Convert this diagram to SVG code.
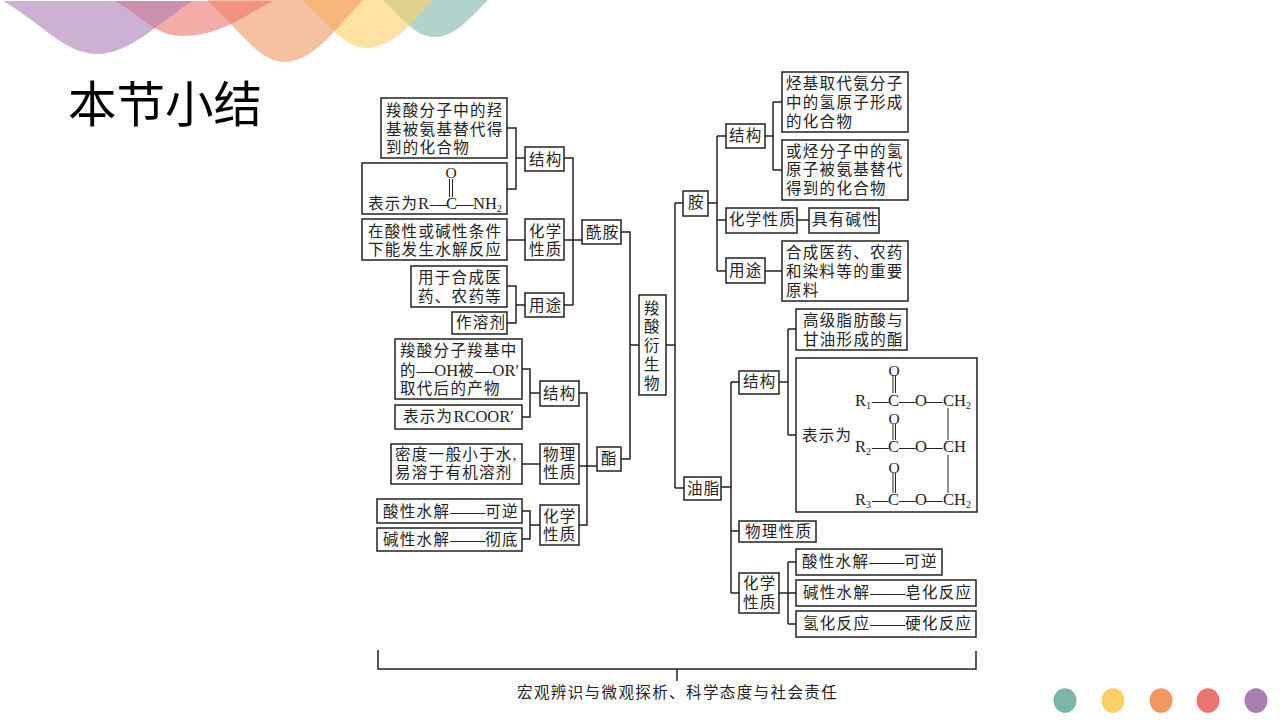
<svg xmlns="http://www.w3.org/2000/svg" width="1280" height="720" viewBox="0 0 1280 720">
<style>
rect.b{fill:#fff;stroke:#222;stroke-width:1.5}
text{font-family:"Liberation Serif","Noto Sans CJK SC",serif;fill:#222}
.t{font-size:15.5px;letter-spacing:1.3px}
.d{letter-spacing:0;font-size:17.5px}
.f{font-size:16.5px}
.o{font-size:15.5px}
.s{font-size:10px;letter-spacing:0}
.c path,.bond{fill:none;stroke:#222;stroke-width:1.5}
.bond{stroke-width:1}
.w{opacity:.6}
</style>
<rect width="1280" height="720" fill="#fff"/>
<g id="waves">
<path class="w" fill="#7BB7A8" d="M383 0C405 20 415 37 435 37C455 37 470 18 488 0Z"/>
<path class="w" fill="#FFCE66" d="M302 0C330 25 345 48 367 48C390 48 412 25 432 0Z"/>
<path class="w" fill="#EF9860" d="M207 0C240 30 258 62 285 62C312 62 335 30 363 0Z"/>
<path class="w" fill="#EC7570" d="M115 1C145 18 155 36 183 36C220 36 245 15 273 1Z"/>
<path class="w" fill="#AB7DB5" d="M3 1C40 22 65 54 97 54C130 54 160 22 192 1Z"/>
</g>
<text id="title" x="68" y="121.500" style="font-family:'Noto Sans CJK SC','Noto Sans',sans-serif;font-size:48.500px;fill:#000">本节小结</text>

<g class="c" id="connectors">
<path d="M507 128H516V189H507M516 158H525M564 158H573V305H564M507 240H525M564 240H582M507 286H516V323H507M516 305H525"/>
<path d="M621 232H630V459H621M630 345H639M666 345H675M675 203V488M675 203H683M675 488H684"/>
<path d="M522 369H530V417H522M530 393H540M579 393H587V525H579M522 464H540M579 466H597M522 511H530V539H522M530 525H540"/>
<path d="M708 203H717M717 136V271M717 136H726M717 220H726M717 271H726M765 136H773M773 102V170M773 102H782M773 170H782M797 220H809M765 271H782"/>
<path d="M721 487H731M731 382V593M731 382H739M731 531H739M731 593H739M779 382H788M788 329V435M788 329H796M788 435H796M779 593H796M788 562V624M788 562H796M788 624H796"/>
<path d="M378 650V669H976V651M677 669V681"/>
</g>

<g id="n-zhongxin"><rect class="b" x="639" y="295" width="27" height="100"/>
<text class="t" x="652.500" y="314" text-anchor="middle">羧</text><text class="t" x="652.500" y="332" text-anchor="middle">酸</text><text class="t" x="652.500" y="351" text-anchor="middle">衍</text><text class="t" x="652.500" y="370" text-anchor="middle">生</text><text class="t" x="652.500" y="389" text-anchor="middle">物</text></g>

<g id="n-xianan"><rect class="b" x="582" y="220" width="39" height="24"/><text class="t" x="586" y="238">酰胺</text></g>
<g id="n-xa-jg"><rect class="b" x="525" y="147" width="39" height="24"/><text class="t" x="529" y="165">结构</text></g>
<g id="n-xa-jg1"><rect class="b" x="381" y="98" width="126" height="60"/><text class="t" x="386" y="116">羧酸分子中的羟</text><text class="t" x="386" y="135">基被氨基替代得</text><text class="t" x="386" y="153">到的化合物</text></g>
<g id="n-xa-jg2"><rect class="b" x="362" y="163" width="145" height="51"/>
<text class="o" x="451" y="178" text-anchor="middle">O</text>
<path class="bond" d="M449.500 179V197M452.500 179V197"/>
<text class="t" y="209"><tspan x="368">表示为</tspan><tspan class="f" x="418" style="letter-spacing:0">R</tspan><tspan class="d" x="430">—</tspan><tspan class="f" x="446" style="letter-spacing:0">C</tspan><tspan class="d" x="456">—</tspan><tspan class="f" x="473" style="letter-spacing:0">NH</tspan><tspan class="s" dy="3">2</tspan></text></g>
<g id="n-xa-hx"><rect class="b" x="525" y="219" width="39" height="41"/><text class="t" x="529" y="237">化学</text><text class="t" x="529" y="255">性质</text></g>
<g id="n-xa-hx1"><rect class="b" x="362" y="219" width="145" height="41"/><text class="t" x="368" y="237">在酸性或碱性条件</text><text class="t" x="368" y="255">下能发生水解反应</text></g>
<g id="n-xa-yt"><rect class="b" x="525" y="293" width="39" height="24"/><text class="t" x="529" y="311">用途</text></g>
<g id="n-xa-yt1"><rect class="b" x="411" y="266" width="96" height="41"/><text class="t" x="418" y="283">用于合成医</text><text class="t" x="418" y="302">药、农药等</text></g>
<g id="n-xa-yt2"><rect class="b" x="452" y="312" width="55" height="22"/><text class="t" x="456" y="328">作溶剂</text></g>

<g id="n-zhi"><rect class="b" x="597" y="447" width="24" height="24"/><text class="t" x="601" y="464">酯</text></g>
<g id="n-z-jg"><rect class="b" x="540" y="381" width="39" height="25"/><text class="t" x="543" y="399">结构</text></g>
<g id="n-z-jg1"><rect class="b" x="395" y="339" width="127" height="60"/><text class="t" x="400" y="356">羧酸分子羧基中</text><text class="t" x="400" y="376">的<tspan class="d">—</tspan><tspan class="f" style="letter-spacing:0">OH</tspan>被<tspan class="d">—</tspan><tspan class="f" style="letter-spacing:0">OR′</tspan></text><text class="t" x="400" y="394">取代后的产物</text></g>
<g id="n-z-jg2"><rect class="b" x="395" y="405" width="127" height="24"/><text class="t" x="403" y="422">表示为<tspan class="f" style="letter-spacing:0">RCOOR′</tspan></text></g>
<g id="n-z-wl"><rect class="b" x="540" y="444" width="39" height="40"/><text class="t" x="543" y="460">物理</text><text class="t" x="543" y="478">性质</text></g>
<g id="n-z-wl1"><rect class="b" x="391" y="444" width="131" height="40"/><text class="t" x="395" y="460">密度一般小于水,</text><text class="t" x="395" y="478">易溶于有机溶剂</text></g>
<g id="n-z-hx"><rect class="b" x="540" y="505" width="39" height="40"/><text class="t" x="543" y="522">化学</text><text class="t" x="543" y="540">性质</text></g>
<g id="n-z-hx1"><rect class="b" x="377" y="499" width="145" height="24"/><text class="t" x="383" y="517">酸性水解<tspan class="d">——</tspan>可逆</text></g>
<g id="n-z-hx2"><rect class="b" x="377" y="528" width="145" height="23"/><text class="t" x="383" y="545">碱性水解<tspan class="d">——</tspan>彻底</text></g>

<g id="n-an"><rect class="b" x="683" y="191" width="25" height="25"/><text class="t" x="688" y="208">胺</text></g>
<g id="n-a-jg"><rect class="b" x="726" y="124" width="39" height="24"/><text class="t" x="729" y="141">结构</text></g>
<g id="n-a-jg1"><rect class="b" x="782" y="72" width="126" height="60"/><text class="t" x="786" y="89">烃基取代氨分子</text><text class="t" x="786" y="108">中的氢原子形成</text><text class="t" x="786" y="127">的化合物</text></g>
<g id="n-a-jg2"><rect class="b" x="782" y="140" width="126" height="60"/><text class="t" x="786" y="157">或烃分子中的氢</text><text class="t" x="786" y="175">原子被氨基替代</text><text class="t" x="786" y="194">得到的化合物</text></g>
<g id="n-a-hx"><rect class="b" x="726" y="208" width="71" height="25"/><text class="t" x="729" y="225">化学性质</text></g>
<g id="n-a-hx1"><rect class="b" x="809" y="208" width="70" height="25"/><text class="t" x="812" y="225">具有碱性</text></g>
<g id="n-a-yt"><rect class="b" x="726" y="258" width="39" height="25"/><text class="t" x="729" y="276">用途</text></g>
<g id="n-a-yt1"><rect class="b" x="782" y="241" width="126" height="60"/><text class="t" x="786" y="258">合成医药、农药</text><text class="t" x="786" y="277">和染料等的重要</text><text class="t" x="786" y="296">原料</text></g>

<g id="n-youzhi"><rect class="b" x="684" y="477" width="37" height="23"/><text class="t" x="687" y="494">油脂</text></g>
<g id="n-y-jg"><rect class="b" x="739" y="371" width="40" height="23"/><text class="t" x="743" y="387">结构</text></g>
<g id="n-y-jg1"><rect class="b" x="796" y="309" width="111" height="41"/><text class="t" x="803" y="326">高级脂肪酸与</text><text class="t" x="803" y="345">甘油形成的酯</text></g>
<g id="n-y-jg2"><rect class="b" x="796" y="358" width="181" height="154"/>
<text class="t" x="802" y="441">表示为</text>
<path class="bond" d="M893 375V393M895.500 375V393M893 424V440M895.500 424V440M893 473V493M895.500 473V493M948 408V440M948 455V493"/>
<text class="o" x="894" y="376" text-anchor="middle">O</text><text class="o" x="894" y="423.500" text-anchor="middle">O</text><text class="o" x="894" y="473" text-anchor="middle">O</text>
<text class="f" y="406"><tspan x="855">R</tspan><tspan class="s" dy="2.500">1</tspan><tspan x="872" dy="-2.500">—</tspan><tspan x="888">C</tspan><tspan x="899">—</tspan><tspan x="915">O</tspan><tspan x="926">—</tspan><tspan x="943">CH</tspan><tspan class="s" dy="2.500">2</tspan></text>
<text class="f" y="452"><tspan x="855">R</tspan><tspan class="s" dy="2.500">2</tspan><tspan x="872" dy="-2.500">—</tspan><tspan x="888">C</tspan><tspan x="899">—</tspan><tspan x="915">O</tspan><tspan x="926">—</tspan><tspan x="943">CH</tspan></text>
<text class="f" y="505"><tspan x="855">R</tspan><tspan class="s" dy="2.500">3</tspan><tspan x="872" dy="-2.500">—</tspan><tspan x="888">C</tspan><tspan x="899">—</tspan><tspan x="915">O</tspan><tspan x="926">—</tspan><tspan x="943">CH</tspan><tspan class="s" dy="2.500">2</tspan></text>
</g>
<g id="n-y-wl"><rect class="b" x="739" y="521" width="77" height="21"/><text class="t" x="745" y="537">物理性质</text></g>
<g id="n-y-hx"><rect class="b" x="739" y="573" width="40" height="40"/><text class="t" x="743" y="589">化学</text><text class="t" x="743" y="608">性质</text></g>
<g id="n-y-hx1"><rect class="b" x="796" y="549" width="146" height="26"/><text class="t" x="802" y="567">酸性水解<tspan class="d">——</tspan>可逆</text></g>
<g id="n-y-hx2"><rect class="b" x="796" y="580" width="180" height="26"/><text class="t" x="803" y="598">碱性水解<tspan class="d">——</tspan>皂化反应</text></g>
<g id="n-y-hx3"><rect class="b" x="796" y="611" width="180" height="26"/><text class="t" x="803" y="629">氢化反应<tspan class="d">——</tspan>硬化反应</text></g>

<text id="caption" class="t" x="517" y="698" style="letter-spacing:1.4px">宏观辨识与微观探析、科学态度与社会责任</text>

<g id="dots">
<ellipse cx="1065" cy="700.500" rx="11.500" ry="12.300" fill="#7BB7A8"/>
<ellipse cx="1113" cy="700.500" rx="11.500" ry="12.300" fill="#FFCE66"/>
<ellipse cx="1161" cy="700.500" rx="11.500" ry="12.300" fill="#EF9860"/>
<ellipse cx="1208" cy="700.500" rx="11.500" ry="12.300" fill="#EC7570"/>
<ellipse cx="1256" cy="700.500" rx="11.500" ry="12.300" fill="#AB7DB5"/>
</g>
</svg>
